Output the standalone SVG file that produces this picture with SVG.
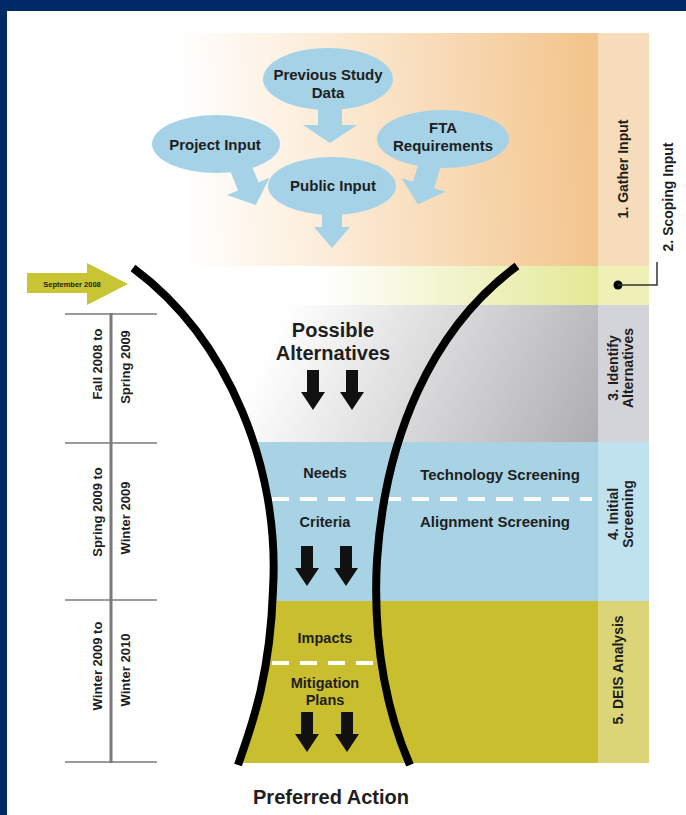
<svg xmlns="http://www.w3.org/2000/svg" width="686" height="815" viewBox="0 0 686 815">
<style>
.t{font-family:"Liberation Sans",Arial,sans-serif;font-weight:bold;fill:#1e1e1e;text-anchor:middle}
.bub{fill:#a5d2e7}
.blk{fill:#111}
.tl{stroke:#7a7a7a;fill:none}
.dash{stroke:#fff;stroke-width:4;stroke-dasharray:17 11;fill:none}
.fun{stroke:#000;stroke-width:8;fill:none}
</style>
<defs>
<linearGradient id="gOr" gradientUnits="userSpaceOnUse" x1="180" y1="140" x2="590" y2="120">
<stop offset="0" stop-color="#ffffff"/><stop offset="0.35" stop-color="#fcecd8"/><stop offset="1" stop-color="#f3c58d"/>
</linearGradient>
<linearGradient id="gYe" gradientUnits="userSpaceOnUse" x1="320" y1="0" x2="595" y2="0">
<stop offset="0" stop-color="#ffffff"/><stop offset="1" stop-color="#e4e997"/>
</linearGradient>
<linearGradient id="gGr" gradientUnits="userSpaceOnUse" x1="290" y1="300" x2="595" y2="445">
<stop offset="0" stop-color="#ffffff"/><stop offset="1" stop-color="#aeaeb2"/>
</linearGradient>
<clipPath id="cF">
<path d="M133,268 C230,340 280,470 273,590 C270,680 250,730 238,765 L650,765 L650,268 Z"/>
</clipPath>
<path id="dn" d="M-6,0 H6 V22 H12 L0,40 L-12,22 H-6 Z"/>
</defs>
<rect width="686" height="815" fill="#fff"/>
<rect x="0" y="0" width="686" height="11" fill="#002a66"/>
<rect x="0" y="0" width="7" height="815" fill="#002a66"/>

<g id="bands">
<rect x="150" y="33" width="448" height="233" fill="url(#gOr)"/>
<rect x="598" y="33" width="51" height="233" fill="#f7dcbb"/>
<rect x="140" y="266" width="458" height="39" fill="url(#gYe)"/>
<rect x="598" y="266" width="51" height="39" fill="#eef0b6"/>
<g clip-path="url(#cF)">
<rect x="140" y="305" width="458" height="137" fill="url(#gGr)"/>
<rect x="140" y="442" width="458" height="159" fill="#a8d3e5"/>
<rect x="140" y="601" width="458" height="162" fill="#c9be2e"/>
</g>
<rect x="598" y="305" width="51" height="137" fill="#d3d3da"/>
<rect x="598" y="442" width="51" height="159" fill="#c0e1ee"/>
<rect x="598" y="601" width="51" height="162" fill="#dcd577"/>
</g>

<g id="dashes">
<line class="dash" x1="272" y1="499" x2="592" y2="499"/>
<line class="dash" x1="272" y1="663" x2="378" y2="663"/>
</g>

<g id="connectors">
<path class="bub" d="M318,105 H342 V125 H357 L330,143 L303,125 H318 Z"/>
<path class="bub" d="M322,212 H342 V227 H350 L332,248 L314,227 H322 Z"/>
<path class="bub" transform="translate(240,166) rotate(-22)" d="M-11,0 H11 V22 H23 L0,42 L-23,22 H-11 Z"/>
<path class="bub" transform="translate(430,164) rotate(17)" d="M-11,0 H11 V22 H23 L0,42 L-23,22 H-11 Z"/>
<use href="#dn" class="blk" x="313" y="370"/>
<use href="#dn" class="blk" x="352" y="370"/>
<use href="#dn" class="blk" x="307" y="546"/>
<use href="#dn" class="blk" x="346" y="546"/>
<use href="#dn" class="blk" x="307" y="712"/>
<use href="#dn" class="blk" x="347" y="712"/>
<circle cx="618" cy="285" r="4.5" fill="#000"/>
<path d="M618,285 H657 V262" stroke="#333" stroke-width="1.5" fill="none"/>
</g>

<g id="funnel">
<path class="fun" d="M133,268 C230,340 280,470 273,590 C270,680 250,730 238,765"/>
<path class="fun" d="M517,266 C430,330 385,440 377,560 C372,650 390,720 410,765"/>
</g>

<g id="node-previous">
<ellipse class="bub" cx="328" cy="79" rx="65" ry="31"/>
<text class="t" x="328" y="80" font-size="15">Previous Study</text>
<text class="t" x="328" y="98" font-size="15">Data</text>
</g>
<g id="node-project">
<ellipse class="bub" cx="216" cy="144" rx="64" ry="29"/>
<text class="t" x="215" y="150" font-size="15">Project Input</text>
</g>
<g id="node-fta">
<ellipse class="bub" cx="443" cy="139" rx="66" ry="29"/>
<text class="t" x="443" y="133" font-size="15">FTA</text>
<text class="t" x="443" y="151" font-size="15">Requirements</text>
</g>
<g id="node-public">
<ellipse class="bub" cx="332" cy="186" rx="64" ry="29"/>
<text class="t" x="333" y="191" font-size="15">Public Input</text>
</g>

<g id="funnel-text">
<text class="t" x="333" y="337" font-size="20">Possible</text>
<text class="t" x="333" y="360" font-size="20">Alternatives</text>
<text class="t" x="325" y="478" font-size="14.5">Needs</text>
<text class="t" x="325" y="527" font-size="14.5">Criteria</text>
<text class="t" x="325" y="643" font-size="14.5">Impacts</text>
<text class="t" x="325" y="688" font-size="14.5">Mitigation</text>
<text class="t" x="325" y="705" font-size="14.5">Plans</text>
<text class="t" x="500" y="480" font-size="15">Technology Screening</text>
<text class="t" x="495" y="527" font-size="15">Alignment Screening</text>
<text class="t" x="331" y="804" font-size="20">Preferred Action</text>
</g>

<g id="phase-labels">
<text class="t" font-size="14" transform="translate(628,169) rotate(-90)">1. Gather Input</text>
<text class="t" font-size="14" transform="translate(673,197) rotate(-90)">2. Scoping Input</text>
<text class="t" font-size="14" transform="translate(618,368) rotate(-90)">3. Identify</text>
<text class="t" font-size="14" transform="translate(633,368) rotate(-90)">Alternatives</text>
<text class="t" font-size="14" transform="translate(618,514) rotate(-90)">4. Initial</text>
<text class="t" font-size="14" transform="translate(633,514) rotate(-90)">Screening</text>
<text class="t" font-size="14" transform="translate(623,670) rotate(-90)">5. DEIS Analysis</text>
</g>

<g id="timeline">
<line class="tl" stroke-width="3" x1="111" y1="313" x2="111" y2="763"/>
<line class="tl" stroke-width="1.5" x1="65" y1="314" x2="157" y2="314"/>
<line class="tl" stroke-width="1.5" x1="65" y1="443" x2="157" y2="443"/>
<line class="tl" stroke-width="1.5" x1="65" y1="600" x2="157" y2="600"/>
<line class="tl" stroke-width="1.5" x1="65" y1="762" x2="157" y2="762"/>
<text class="t" font-size="13" transform="translate(102,364) rotate(-90)">Fall 2008 to</text>
<text class="t" font-size="13" transform="translate(130,367) rotate(-90)">Spring 2009</text>
<text class="t" font-size="13" transform="translate(102,512) rotate(-90)">Spring 2009 to</text>
<text class="t" font-size="13" transform="translate(130,518) rotate(-90)">Winter 2009</text>
<text class="t" font-size="13" transform="translate(102,666) rotate(-90)">Winter 2009 to</text>
<text class="t" font-size="13" transform="translate(130,670) rotate(-90)">Winter 2010</text>
</g>

<g id="sept-arrow">
<path d="M27,273 H87 V263 L128,284 L87,305 V293 H27 Z" fill="#c8c433"/>
<text class="t" x="72" y="287" font-size="7.5" fill="#333">September 2008</text>
</g>
</svg>
